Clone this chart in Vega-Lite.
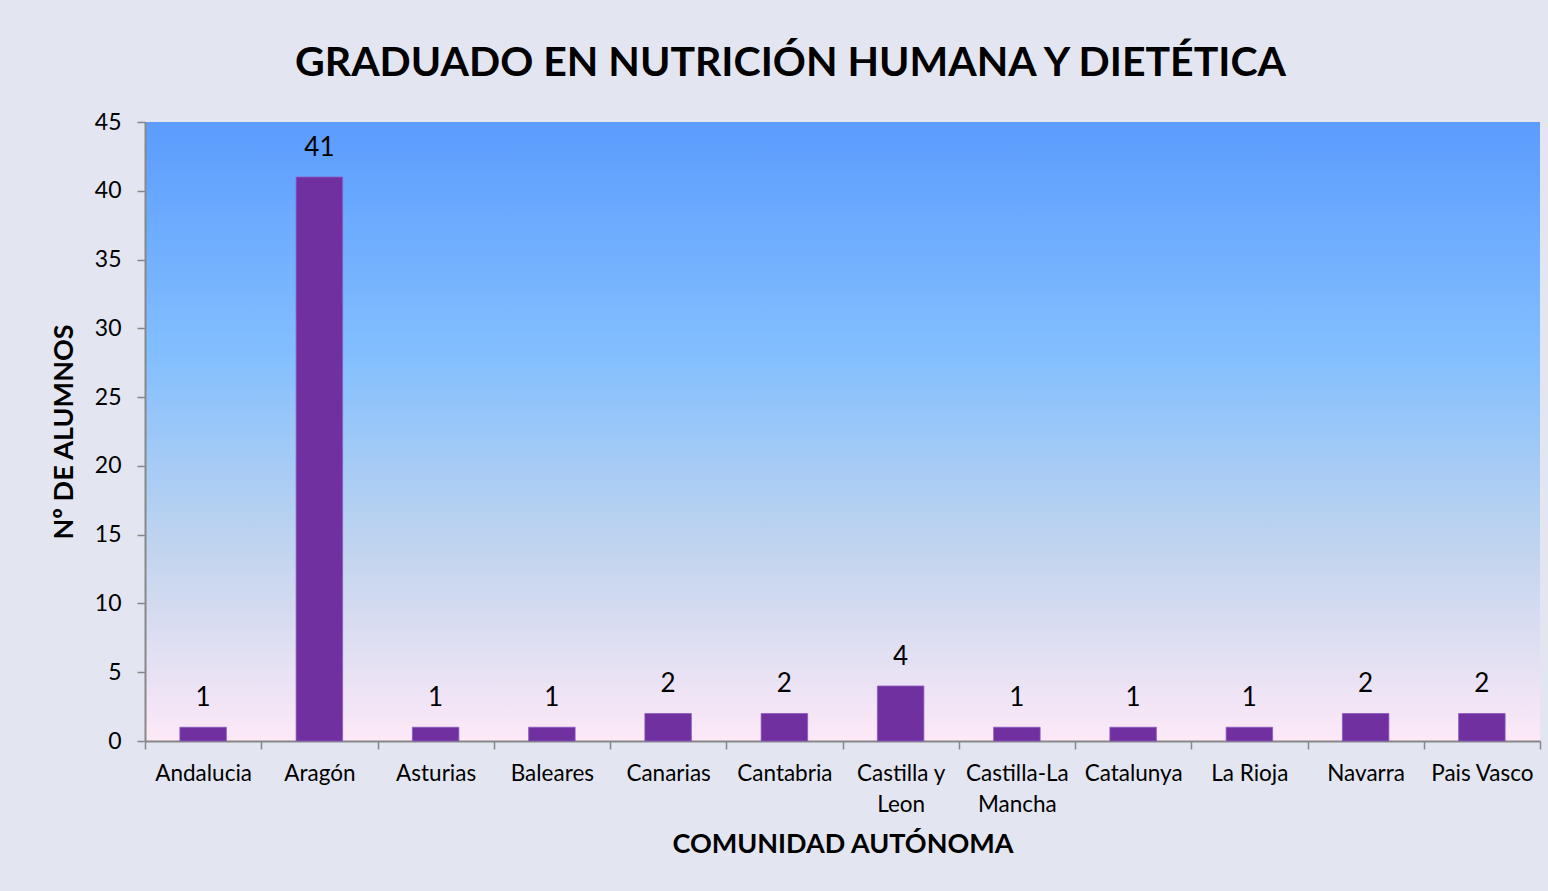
{
  "$schema": "https://vega.github.io/schema/vega-lite/v6.json",
  "width": 1395,
  "height": 619,
  "autosize": {"type": "none"},
  "padding": {"left": 145, "top": 122, "right": 8, "bottom": 150},
  "background": "#E3E6F0",
  "title": {
    "text": "GRADUADO EN NUTRICIÓN HUMANA Y DIETÉTICA",
    "font": "Lato",
    "fontSize": 41,
    "fontWeight": "bold",
    "color": "#000000",
    "anchor": "middle",
    "dx": -52,
    "dy": 50,
    "baseline": "alphabetic",
    "offset": 44
  },
  "config": {
    "view": {
      "stroke": null,
      "fill": {
        "gradient": "linear",
        "x1": 0, "y1": 0, "x2": 0, "y2": 1,
        "stops": [
          {"offset": 0, "color": "#5B9CFE"},
          {"offset": 0.38, "color": "#83BFFE"},
          {"offset": 0.7, "color": "#C3D5EE"},
          {"offset": 1, "color": "#FDE9F7"}
        ]
      }
    },
    "axis": {
      "labelFont": "Lato",
      "titleFont": "Lato",
      "labelColor": "#000000",
      "titleColor": "#000000",
      "domainColor": "#878787",
      "domainWidth": 2,
      "tickColor": "#878787",
      "tickWidth": 1.5,
      "tickSize": 8,
      "grid": false
    }
  },
  "data": {
    "values": [
      {"comunidad": "Andalucia", "alumnos": 1},
      {"comunidad": "Aragón", "alumnos": 41},
      {"comunidad": "Asturias", "alumnos": 1},
      {"comunidad": "Baleares", "alumnos": 1},
      {"comunidad": "Canarias", "alumnos": 2},
      {"comunidad": "Cantabria", "alumnos": 2},
      {"comunidad": "Castilla y Leon", "alumnos": 4},
      {"comunidad": "Castilla-La Mancha", "alumnos": 1},
      {"comunidad": "Catalunya", "alumnos": 1},
      {"comunidad": "La Rioja", "alumnos": 1},
      {"comunidad": "Navarra", "alumnos": 2},
      {"comunidad": "Pais Vasco", "alumnos": 2}
    ]
  },
  "encoding": {
    "x": {
      "field": "comunidad",
      "type": "nominal",
      "sort": null,
      "scale": {"paddingInner": 0, "paddingOuter": 0},
      "axis": {
        "title": "COMUNIDAD AUTÓNOMA",
        "titleFontSize": 27,
        "titleFontWeight": "bold",
        "titlePadding": 16,
        "labelAngle": 0,
        "labelFontSize": 22.5,
        "labelPadding": 13,
        "labelLineHeight": 31,
        "tickBand": "extent",
        "labelExpr": "datum.label == 'Castilla y Leon' ? ['Castilla y', 'Leon'] : datum.label == 'Castilla-La Mancha' ? ['Castilla-La', 'Mancha'] : datum.label"
      }
    },
    "y": {
      "field": "alumnos",
      "type": "quantitative",
      "scale": {"domain": [0, 45], "nice": false},
      "axis": {
        "title": "Nº DE ALUMNOS",
        "titleFontSize": 27,
        "titleFontWeight": "bold",
        "titlePadding": 16,
        "values": [0, 5, 10, 15, 20, 25, 30, 35, 40, 45],
        "labelFontSize": 23,
        "labelPadding": 16
      }
    }
  },
  "layer": [
    {"mark": {"type": "bar", "color": "#7030A0", "stroke": "#8A5AC0", "strokeWidth": 0.8, "width": {"band": 0.4}}},
    {
      "mark": {"type": "text", "font": "Lato", "fontSize": 26, "color": "#000000", "baseline": "alphabetic", "dy": -21},
      "encoding": {"text": {"field": "alumnos", "type": "quantitative"}}
    }
  ]
}
